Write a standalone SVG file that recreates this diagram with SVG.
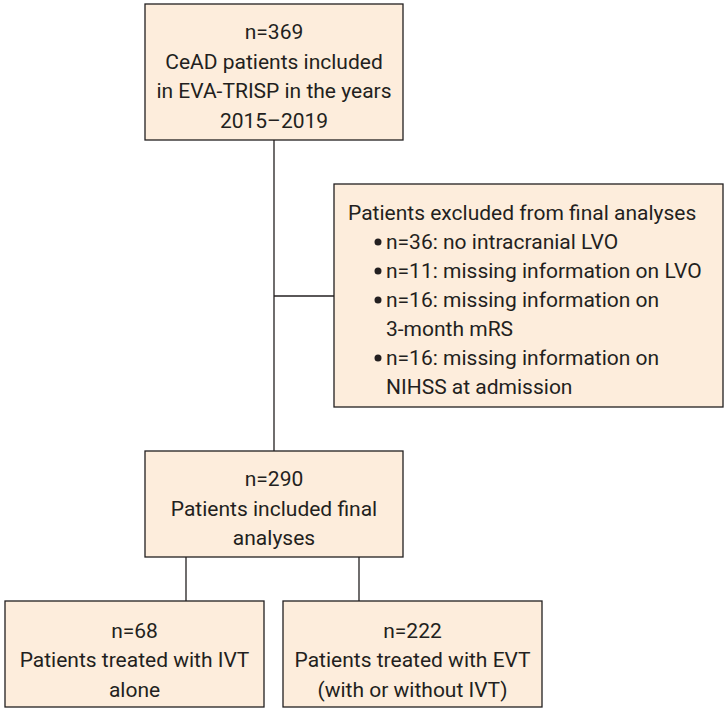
<svg xmlns="http://www.w3.org/2000/svg" width="727" height="710" viewBox="0 0 727 710">
<style>
.box{fill:#fdeddc;stroke:#231f20;stroke-width:1.3}
.t{font-family:Roboto,"Liberation Sans",Arial,sans-serif;font-size:21px;fill:#231f20}
.c{text-anchor:middle}
.ln{stroke:#231f20;stroke-width:1.3;fill:none}
.b{fill:#231f20}
</style>
<rect width="727" height="710" fill="#ffffff"/>
<g id="connectors">
<line class="ln" x1="274" y1="140" x2="274" y2="451"/>
<line class="ln" x1="274" y1="296" x2="334" y2="296"/>
<line class="ln" x1="186" y1="557" x2="186" y2="601"/>
<line class="ln" x1="359" y1="557" x2="359" y2="601"/>
</g>
<g id="n1">
<rect class="box" x="145" y="4" width="258" height="136"/>
<text class="t c" x="274" y="39">n=369</text>
<text class="t c" x="274" y="69">CeAD patients included</text>
<text class="t c" x="274" y="98">in EVA-TRISP in the years</text>
<text class="t c" x="274" y="128">2015–2019</text>
</g>
<g id="excluded">
<rect class="box" x="334" y="184" width="389" height="223"/>
<text class="t" x="348" y="220">Patients excluded from final analyses</text>
<circle class="b" cx="378" cy="242" r="3.5"/>
<text class="t" x="386" y="249">n=36: no intracranial LVO</text>
<circle class="b" cx="378" cy="271" r="3.5"/>
<text class="t" x="386" y="278">n=11: missing information on LVO</text>
<circle class="b" cx="378" cy="300" r="3.5"/>
<text class="t" x="386" y="307">n=16: missing information on</text>
<text class="t" x="386" y="336">3-month mRS</text>
<circle class="b" cx="378" cy="358" r="3.5"/>
<text class="t" x="386" y="365">n=16: missing information on</text>
<text class="t" x="386" y="394">NIHSS at admission</text>
</g>
<g id="n2">
<rect class="box" x="145" y="451" width="258" height="106"/>
<text class="t c" x="274" y="486">n=290</text>
<text class="t c" x="274" y="516">Patients included final</text>
<text class="t c" x="274" y="545">analyses</text>
</g>
<g id="ivt">
<rect class="box" x="5" y="601" width="259" height="106"/>
<text class="t c" x="134.500" y="638">n=68</text>
<text class="t c" x="134.500" y="667">Patients treated with IVT</text>
<text class="t c" x="134.500" y="697">alone</text>
</g>
<g id="evt">
<rect class="box" x="283" y="601" width="259" height="106"/>
<text class="t c" x="412.500" y="638">n=222</text>
<text class="t c" x="412.500" y="667">Patients treated with EVT</text>
<text class="t c" x="412.500" y="697">(with or without IVT)</text>
</g>
</svg>
